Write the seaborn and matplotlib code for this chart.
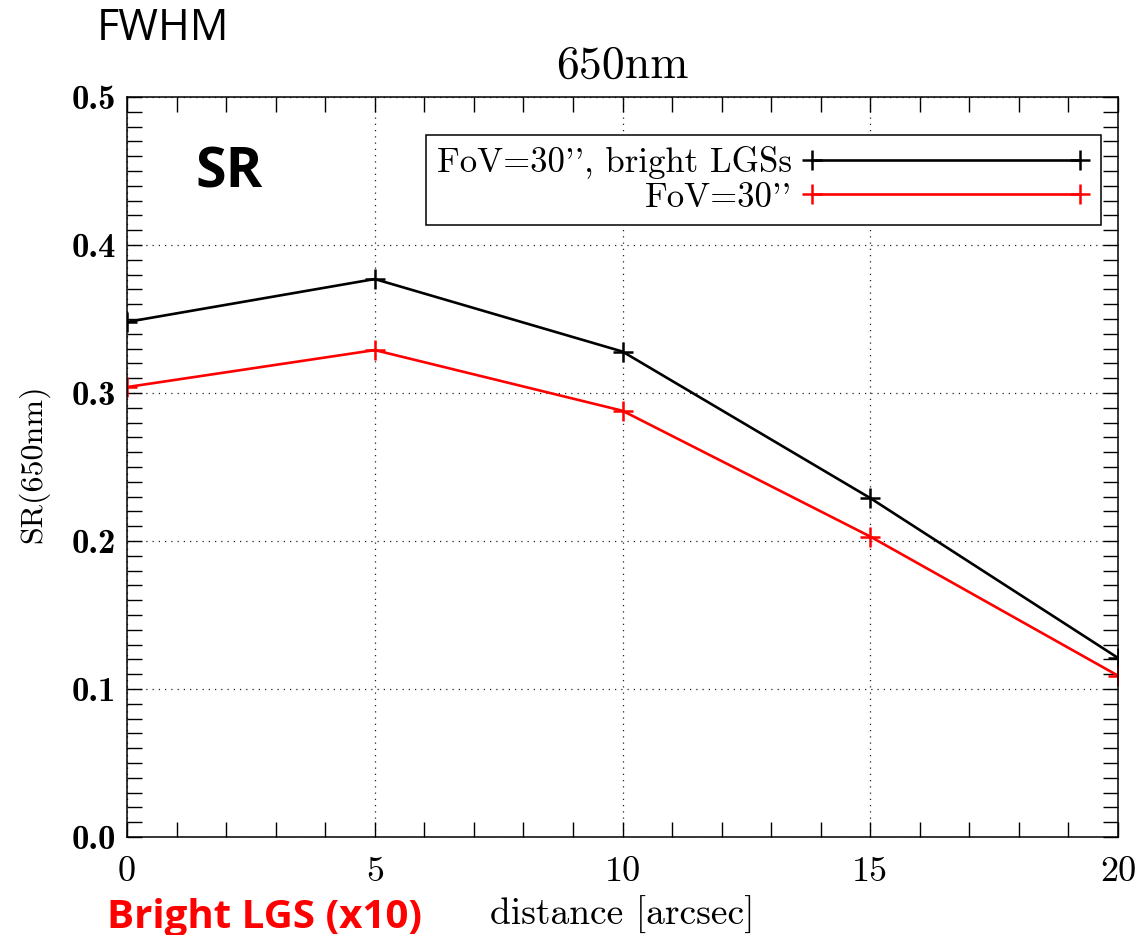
import numpy as np
import pandas as pd
import matplotlib
matplotlib.use("Agg")
import matplotlib.pyplot as plt
from matplotlib.ticker import MultipleLocator, FuncFormatter
from matplotlib.lines import Line2D
import seaborn as sns

# Strehl ratio at 650 nm versus off-axis distance
distance = [0, 5, 10, 15, 20]
sr_bright_lgs = [0.348, 0.377, 0.328, 0.229, 0.121]
sr_fov30 = [0.304, 0.329, 0.288, 0.203, 0.109]
series_labels = ["FoV=30'', bright LGSs", "FoV=30''"]
series_colors = ["#000000", "#ff0000"]

df = pd.DataFrame({
    "distance": distance * 2,
    "sr": sr_bright_lgs + sr_fov30,
    "case": [series_labels[0]] * len(distance) + [series_labels[1]] * len(distance),
})

sns.set_style("ticks")
plt.rcParams["font.family"] = ["cmr10", "DejaVu Serif"]
plt.rcParams["axes.formatter.use_mathtext"] = True
plt.rcParams["text.color"] = "black"
plt.rcParams["axes.labelcolor"] = "black"
plt.rcParams["xtick.color"] = "black"
plt.rcParams["ytick.color"] = "black"

W, H = 1138, 935
fig = plt.figure(figsize=(W / 100, H / 100), dpi=100)
ax = fig.add_axes([127 / W, 1 - 837 / H, (1118 - 127) / W, (837 - 97) / H])

MS, MEW, LW = 15, 1.8, 1.9
sns.lineplot(
    data=df, x="distance", y="sr", hue="case",
    palette=dict(zip(series_labels, series_colors)),
    hue_order=series_labels, marker="+", markersize=MS, markeredgewidth=MEW,
    linewidth=LW, ax=ax, legend=False, sort=False,
)
for ln in ax.lines:
    ln.set_markeredgecolor(ln.get_color())
    ln.set_markerfacecolor(ln.get_color())

ax.set_xlim(0, 20)
ax.set_ylim(0, 0.5)
ax.xaxis.set_major_locator(MultipleLocator(5))
ax.xaxis.set_minor_locator(MultipleLocator(1))
ax.yaxis.set_major_locator(MultipleLocator(0.1))
ax.yaxis.set_minor_locator(MultipleLocator(0.01))
ax.xaxis.set_major_formatter(FuncFormatter(lambda v, p: f"{v:.0f}"))
ax.yaxis.set_major_formatter(FuncFormatter(lambda v, p: f"{v:.1f}"))

ax.tick_params(which="both", direction="in", top=True, right=True,
               length=11, width=1.0, color="black")
ax.tick_params(axis="x", which="major", labelsize=26, pad=14)
ax.tick_params(axis="y", which="major", labelsize=25, pad=8)
for lbl in ax.get_yticklabels():
    lbl.set_fontfamily(["cmb10", "DejaVu Serif"])

for s in ax.spines.values():
    s.set_linewidth(1.1)
    s.set_color("black")

ax.grid(True, which="major", color="#222222", linestyle=(0, (1, 4)), linewidth=0.9)
ax.set_axisbelow(True)

ax.set_title("650nm", fontsize=33, pad=14)
ax.set_xlabel("distance [arcsec]", fontsize=27)
ax.xaxis.set_label_coords(0.5, -0.08)
ax.xaxis.label.set_verticalalignment("top")
ax.set_ylabel("SR(650nm)", fontsize=23)
ax.yaxis.set_label_coords(-0.078, 0.505)

handles = [
    Line2D([], [], color=c, marker="+", markersize=MS,
           markeredgewidth=MEW, linewidth=LW)
    for c in series_colors
]
leg = ax.legend(handles, series_labels, loc="upper right",
                bbox_to_anchor=(0.983, 0.9486), markerfirst=False, numpoints=2,
                handlelength=8.3, handletextpad=0.29, fontsize=25,
                frameon=True, fancybox=False, shadow=False, framealpha=1,
                edgecolor="black", borderpad=0.32, labelspacing=0.08,
                borderaxespad=0)
leg.get_frame().set_linewidth(1.1)

fig.text(97 / W, 1 - 40 / H, "FWHM", fontsize=31, family="Open Sans",
         ha="left", va="baseline")
fig.text(195 / W, 1 - 188 / H, "SR", fontsize=40, family="Open Sans",
         fontweight="bold", ha="left", va="baseline")
fig.text(107 / W, 1 - 928 / H, "Bright LGS (x10)", fontsize=29, family="Open Sans",
         fontweight="bold", color="#ff0000", ha="left", va="baseline")

fig.savefig("out.png", dpi=100)
